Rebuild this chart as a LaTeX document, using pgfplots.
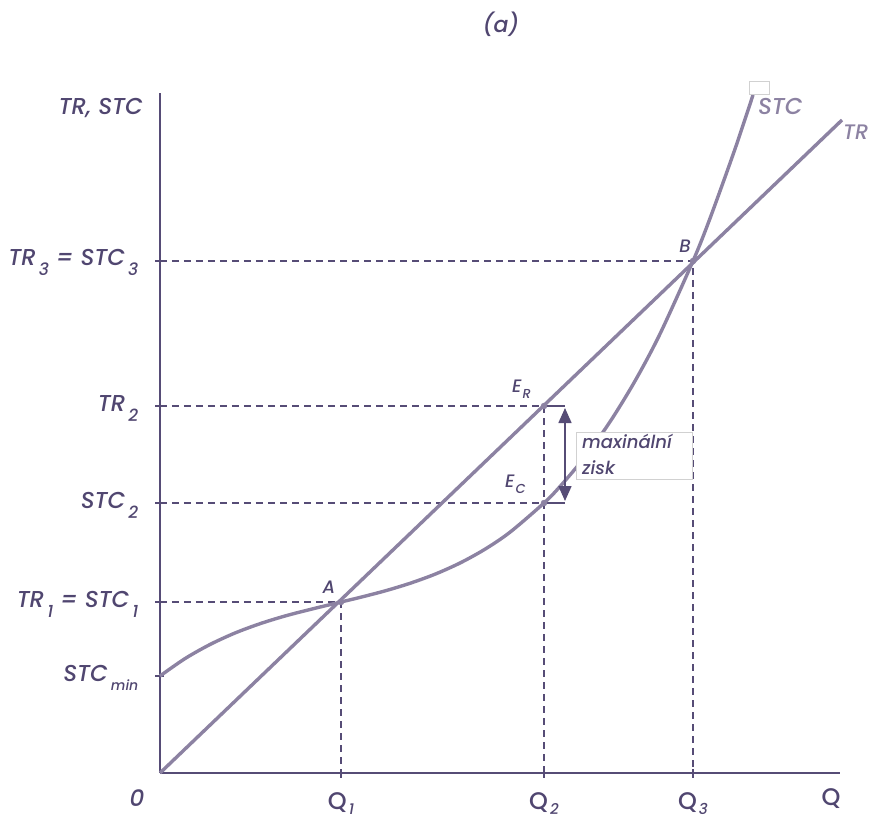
\documentclass[border=0pt]{standalone}
\usepackage{fontspec}
\setmainfont{Poppins}[UprightFont=* Medium, ItalicFont=* Medium Italic]
\usepackage{pgfplots}
\pgfplotsset{compat=1.18}
\usetikzlibrary{arrows.meta}
\definecolor{axc}{RGB}{86,76,118}
\definecolor{crv}{RGB}{140,130,162}
\definecolor{txt}{RGB}{80,70,112}
\newcommand\sub[2][-10pt]{\hspace{3pt}\raisebox{#1}{\fontsize{17}{17}\selectfont\itshape #2}}
\newcommand\xsub[1]{\hspace{2pt}\raisebox{-5pt}{\fontsize{15}{15}\selectfont\itshape #1}}
\newcommand\lab{\fontsize{23}{28}\selectfont\itshape}
\newcommand\labup{\fontsize{24}{28}\selectfont}
\newcommand\smlab{\fontsize{18}{20}\selectfont\itshape}
\begin{document}
\begin{tikzpicture}
\begin{axis}[
  x=1pt,y=1pt,
  xmin=0,xmax=680,ymin=0,ymax=680,
  axis lines=left,
  axis line style={-,line width=2.4pt,draw=axc},
  clip=false,
  xtick={181,384,533},
  xticklabels={{Q\xsub{1}},{Q\xsub{2}},{Q\xsub{3}}},
  ytick={97,171,270,367,512},
  yticklabels={{STC\sub[-9pt]{\fontsize{14}{14}\selectfont min}},{TR\sub{1} = STC\sub{1}},{STC\sub{2}},{TR\sub{2}},{TR\sub{3} = STC\sub{3}}},
  tick align=center, major tick length=9pt,
  tick style={line width=2pt,draw=axc},
  tick label style={text=txt,inner sep=0pt},
  yticklabel style={font=\lab,anchor=base east,xshift=-17pt,yshift=-5pt},
  xticklabel style={font=\labup,anchor=base,yshift=-32pt},
]
% dashed guides
\addplot[axc, line width=1.4pt, dash pattern=on 7pt off 5pt] coordinates {(0,171) (181,171) (181,0)};
\addplot[axc, line width=1.4pt, dash pattern=on 7pt off 5pt] coordinates {(0,270) (384,270)};
\addplot[axc, line width=1.4pt, dash pattern=on 7pt off 5pt] coordinates {(0,367) (384,367) (384,0)};
\addplot[axc, line width=1.4pt, dash pattern=on 7pt off 5pt] coordinates {(0,512) (533,512) (533,0)};
% connectors
\addplot[axc, line width=1.4pt] coordinates {(384,367) (405,367)};
\addplot[axc, line width=1.4pt] coordinates {(384,270) (405,270)};
% TR
\addplot[crv, line width=3.4pt] coordinates {(0,0) (682,653)};
% STC
\addplot[crv, line width=3.4pt, smooth, tension=0.5] coordinates {
(0,97) (25,114.4) (50,128.5) (75,140) (100,149.3) (125,157) (150,163.5) (181,171)
(200,175.6) (225,182.1) (250,189.7) (275,198.8) (300,210) (325,223.8) (350,240.8)
(384,270) (400,286.5) (425,316.2) (450,351.2) (475,392) (500,439.1) (533,512)
(550,554.6) (575,624) (593,678)};
% points
\addplot[only marks, mark=*, mark size=3pt, crv] coordinates {(181,171) (384,367) (384,270) (533,512)};
% arrow
\addplot[axc, line width=1.6pt, {Triangle[width=13pt,length=15pt]}-{Triangle[width=13pt,length=15pt]}] coordinates {(405,272) (405,365)};
% box
\draw[draw=black!18, fill=white, line width=1pt] (axis cs:416,294) rectangle (axis cs:532,341);
\node[anchor=base west, font=\smlab, text=txt, inner sep=0pt] at (axis cs:422,325) {maxinální};
\node[anchor=base west, font=\smlab, text=txt, inner sep=0pt] at (axis cs:422,299) {zisk};
% small box at top
\draw[draw=black!18, fill=white, line width=0.8pt] (axis cs:589,679) rectangle (axis cs:609,692);
% labels
\node[anchor=base, font=\smlab, text=txt, inner sep=0pt] at (axis cs:169,180) {A};
\node[anchor=base, font=\smlab, text=txt, inner sep=0pt] at (axis cs:525,520) {B};
\node[anchor=base west, font=\smlab, text=txt, inner sep=0pt] at (axis cs:352,381) {E\hspace{1pt}\raisebox{-6pt}{\fontsize{13}{13}\selectfont R}};
\node[anchor=base west, font=\smlab, text=txt, inner sep=0pt] at (axis cs:345,286) {E\hspace{1pt}\raisebox{-6pt}{\fontsize{13}{13}\selectfont C}};
\node[anchor=base west, font=\lab, text=crv, inner sep=0pt] at (axis cs:598,658) {STC};
\node[anchor=base west, font=\fontsize{21}{24}\selectfont\itshape, text=crv, inner sep=0pt] at (axis cs:683,633) {TR};
\node[anchor=base east, font=\lab, text=txt, inner sep=0pt] at (axis cs:-17,658) {TR, STC};
\node[anchor=base, font=\lab, text=txt, inner sep=0pt] at (axis cs:-23,-33) {0};
\node[anchor=base, font=\labup, text=txt, inner sep=0pt] at (axis cs:671,-32) {Q};
\node[anchor=base, font=\fontsize{22}{26}\selectfont\itshape, text=txt, inner sep=0pt] at (axis cs:341,740) {(a)};
\coordinate (bl) at (axis cs:-160,-47);
\coordinate (tr) at (axis cs:709,773);
\end{axis}
\pgfresetboundingbox
\useasboundingbox (bl) rectangle (tr);
\end{tikzpicture}
\end{document}
